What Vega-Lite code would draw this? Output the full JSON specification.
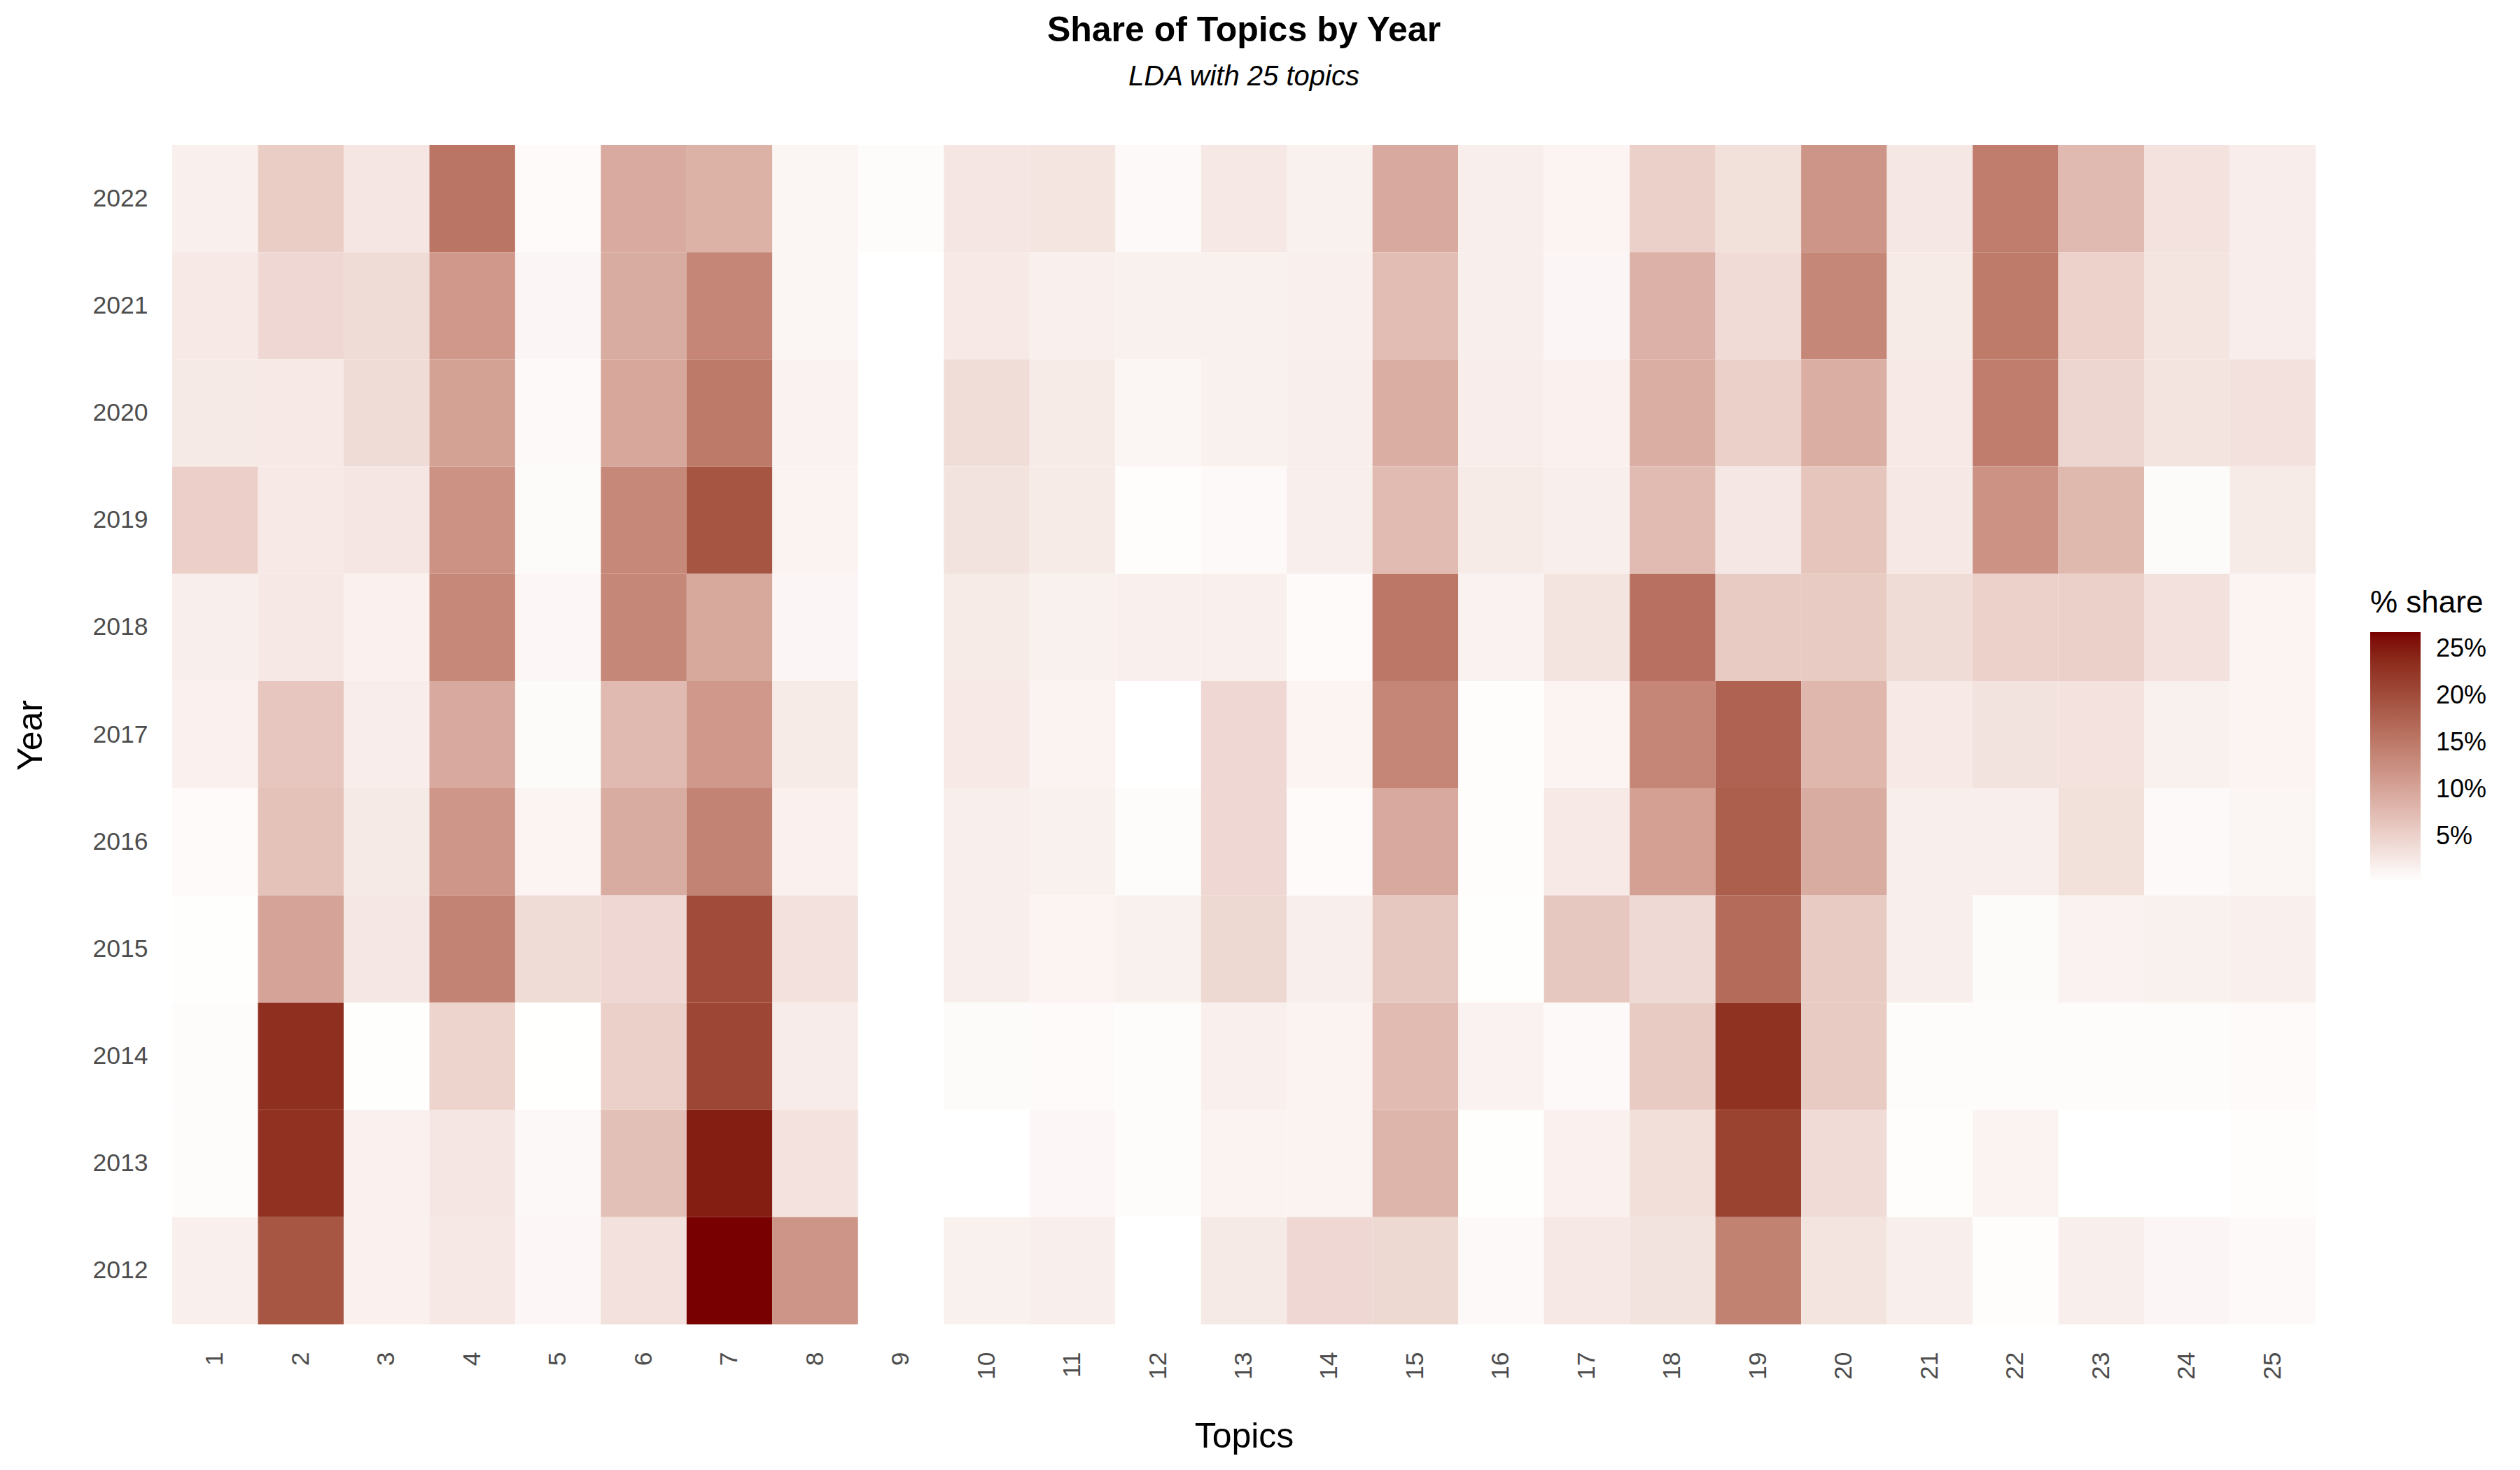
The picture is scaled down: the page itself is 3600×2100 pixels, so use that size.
{
  "$schema": "https://vega.github.io/schema/vega-lite/v6.json",
  "autosize": "none",
  "width": 3062,
  "height": 1685,
  "padding": {"left": 246, "top": 207, "right": 292, "bottom": 208},
  "background": "white",
  "title": {
    "text": "Share of Topics by Year",
    "subtitle": "LDA with 25 topics",
    "anchor": "middle",
    "frame": "group",
    "font": "Liberation Sans",
    "fontSize": 50,
    "fontWeight": "bold",
    "color": "black",
    "subtitleFont": "Liberation Sans",
    "subtitleFontSize": 40,
    "subtitleFontStyle": "italic",
    "subtitleColor": "black",
    "subtitlePadding": 21,
    "offset": 77
  },
  "config": {
    "view": {"stroke": null},
    "font": "Liberation Sans"
  },
  "data": {
    "values": [
      {"topic":1,"year":2022,"share":1.8},{"topic":2,"year":2022,"share":5.5},{"topic":3,"year":2022,"share":2.8},{"topic":4,"year":2022,"share":15.5},{"topic":5,"year":2022,"share":0.7},{"topic":6,"year":2022,"share":9.3},{"topic":7,"year":2022,"share":8.7},{"topic":8,"year":2022,"share":1.2},{"topic":9,"year":2022,"share":0.5},{"topic":10,"year":2022,"share":2.8},{"topic":11,"year":2022,"share":2.9},{"topic":12,"year":2022,"share":0.8},{"topic":13,"year":2022,"share":2.6},{"topic":14,"year":2022,"share":1.7},{"topic":15,"year":2022,"share":9.5},{"topic":16,"year":2022,"share":1.9},{"topic":17,"year":2022,"share":1.3},{"topic":18,"year":2022,"share":5.2},{"topic":19,"year":2022,"share":3.5},{"topic":20,"year":2022,"share":11.8},{"topic":21,"year":2022,"share":2.7},{"topic":22,"year":2022,"share":14.5},{"topic":23,"year":2022,"share":7.7},{"topic":24,"year":2022,"share":3.3},{"topic":25,"year":2022,"share":2.1},
      {"topic":1,"year":2021,"share":2.5},{"topic":2,"year":2021,"share":4.3},{"topic":3,"year":2021,"share":3.9},{"topic":4,"year":2021,"share":11.5},{"topic":5,"year":2021,"share":1.1},{"topic":6,"year":2021,"share":9.2},{"topic":7,"year":2021,"share":13.5},{"topic":8,"year":2021,"share":1.2},{"topic":9,"year":2021,"share":0.05},{"topic":10,"year":2021,"share":2.5},{"topic":11,"year":2021,"share":1.8},{"topic":12,"year":2021,"share":1.7},{"topic":13,"year":2021,"share":1.7},{"topic":14,"year":2021,"share":1.8},{"topic":15,"year":2021,"share":7.3},{"topic":16,"year":2021,"share":1.9},{"topic":17,"year":2021,"share":1.1},{"topic":18,"year":2021,"share":8.6},{"topic":19,"year":2021,"share":4.0},{"topic":20,"year":2021,"share":13.4},{"topic":21,"year":2021,"share":2.3},{"topic":22,"year":2021,"share":14.8},{"topic":23,"year":2021,"share":5.0},{"topic":24,"year":2021,"share":2.9},{"topic":25,"year":2021,"share":2.1},
      {"topic":1,"year":2020,"share":2.4},{"topic":2,"year":2020,"share":2.5},{"topic":3,"year":2020,"share":3.9},{"topic":4,"year":2020,"share":10.4},{"topic":5,"year":2020,"share":0.8},{"topic":6,"year":2020,"share":9.8},{"topic":7,"year":2020,"share":14.9},{"topic":8,"year":2020,"share":1.5},{"topic":9,"year":2020,"share":0.05},{"topic":10,"year":2020,"share":3.8},{"topic":11,"year":2020,"share":2.3},{"topic":12,"year":2020,"share":1.2},{"topic":13,"year":2020,"share":1.7},{"topic":14,"year":2020,"share":1.9},{"topic":15,"year":2020,"share":9.0},{"topic":16,"year":2020,"share":2.1},{"topic":17,"year":2020,"share":1.6},{"topic":18,"year":2020,"share":9.0},{"topic":19,"year":2020,"share":5.2},{"topic":20,"year":2020,"share":9.0},{"topic":21,"year":2020,"share":2.5},{"topic":22,"year":2020,"share":14.5},{"topic":23,"year":2020,"share":4.6},{"topic":24,"year":2020,"share":3.1},{"topic":25,"year":2020,"share":3.4},
      {"topic":1,"year":2019,"share":5.3},{"topic":2,"year":2019,"share":2.5},{"topic":3,"year":2019,"share":2.8},{"topic":4,"year":2019,"share":12.0},{"topic":5,"year":2019,"share":0.6},{"topic":6,"year":2019,"share":13.2},{"topic":7,"year":2019,"share":19.1},{"topic":8,"year":2019,"share":1.4},{"topic":9,"year":2019,"share":0.05},{"topic":10,"year":2019,"share":3.2},{"topic":11,"year":2019,"share":2.3},{"topic":12,"year":2019,"share":0.4},{"topic":13,"year":2019,"share":0.8},{"topic":14,"year":2019,"share":2.0},{"topic":15,"year":2019,"share":7.6},{"topic":16,"year":2019,"share":2.3},{"topic":17,"year":2019,"share":2.0},{"topic":18,"year":2019,"share":7.6},{"topic":19,"year":2019,"share":2.7},{"topic":20,"year":2019,"share":6.4},{"topic":21,"year":2019,"share":2.6},{"topic":22,"year":2019,"share":12.0},{"topic":23,"year":2019,"share":7.9},{"topic":24,"year":2019,"share":0.6},{"topic":25,"year":2019,"share":2.3},
      {"topic":1,"year":2018,"share":1.9},{"topic":2,"year":2018,"share":2.6},{"topic":3,"year":2018,"share":1.6},{"topic":4,"year":2018,"share":13.3},{"topic":5,"year":2018,"share":1.0},{"topic":6,"year":2018,"share":13.4},{"topic":7,"year":2018,"share":9.7},{"topic":8,"year":2018,"share":1.1},{"topic":9,"year":2018,"share":0.05},{"topic":10,"year":2018,"share":2.3},{"topic":11,"year":2018,"share":1.7},{"topic":12,"year":2018,"share":1.8},{"topic":13,"year":2018,"share":1.8},{"topic":14,"year":2018,"share":0.7},{"topic":15,"year":2018,"share":15.2},{"topic":16,"year":2018,"share":1.5},{"topic":17,"year":2018,"share":3.1},{"topic":18,"year":2018,"share":15.9},{"topic":19,"year":2018,"share":5.8},{"topic":20,"year":2018,"share":5.8},{"topic":21,"year":2018,"share":3.9},{"topic":22,"year":2018,"share":5.1},{"topic":23,"year":2018,"share":5.2},{"topic":24,"year":2018,"share":3.4},{"topic":25,"year":2018,"share":1.3},
      {"topic":1,"year":2017,"share":1.6},{"topic":2,"year":2017,"share":6.3},{"topic":3,"year":2017,"share":2.1},{"topic":4,"year":2017,"share":9.5},{"topic":5,"year":2017,"share":0.6},{"topic":6,"year":2017,"share":7.7},{"topic":7,"year":2017,"share":11.5},{"topic":8,"year":2017,"share":2.3},{"topic":9,"year":2017,"share":0.05},{"topic":10,"year":2017,"share":2.5},{"topic":11,"year":2017,"share":1.4},{"topic":12,"year":2017,"share":0.1},{"topic":13,"year":2017,"share":4.3},{"topic":14,"year":2017,"share":1.3},{"topic":15,"year":2017,"share":13.5},{"topic":16,"year":2017,"share":0.4},{"topic":17,"year":2017,"share":1.3},{"topic":18,"year":2017,"share":13.5},{"topic":19,"year":2017,"share":17.6},{"topic":20,"year":2017,"share":8.0},{"topic":21,"year":2017,"share":2.5},{"topic":22,"year":2017,"share":3.2},{"topic":23,"year":2017,"share":3.3},{"topic":24,"year":2017,"share":1.7},{"topic":25,"year":2017,"share":1.3},
      {"topic":1,"year":2016,"share":0.7},{"topic":2,"year":2016,"share":6.8},{"topic":3,"year":2016,"share":2.4},{"topic":4,"year":2016,"share":11.7},{"topic":5,"year":2016,"share":1.3},{"topic":6,"year":2016,"share":9.2},{"topic":7,"year":2016,"share":13.8},{"topic":8,"year":2016,"share":1.6},{"topic":9,"year":2016,"share":0.05},{"topic":10,"year":2016,"share":1.9},{"topic":11,"year":2016,"share":1.7},{"topic":12,"year":2016,"share":0.5},{"topic":13,"year":2016,"share":4.3},{"topic":14,"year":2016,"share":0.7},{"topic":15,"year":2016,"share":9.4},{"topic":16,"year":2016,"share":0.4},{"topic":17,"year":2016,"share":2.5},{"topic":18,"year":2016,"share":10.6},{"topic":19,"year":2016,"share":18.0},{"topic":20,"year":2016,"share":9.2},{"topic":21,"year":2016,"share":1.9},{"topic":22,"year":2016,"share":2.0},{"topic":23,"year":2016,"share":3.5},{"topic":24,"year":2016,"share":0.8},{"topic":25,"year":2016,"share":1.2},
      {"topic":1,"year":2015,"share":0.3},{"topic":2,"year":2015,"share":10.2},{"topic":3,"year":2015,"share":2.7},{"topic":4,"year":2015,"share":13.8},{"topic":5,"year":2015,"share":3.9},{"topic":6,"year":2015,"share":4.3},{"topic":7,"year":2015,"share":20.2},{"topic":8,"year":2015,"share":3.4},{"topic":9,"year":2015,"share":0.05},{"topic":10,"year":2015,"share":2.0},{"topic":11,"year":2015,"share":1.3},{"topic":12,"year":2015,"share":1.7},{"topic":13,"year":2015,"share":4.4},{"topic":14,"year":2015,"share":1.9},{"topic":15,"year":2015,"share":6.1},{"topic":16,"year":2015,"share":0.3},{"topic":17,"year":2015,"share":6.1},{"topic":18,"year":2015,"share":4.2},{"topic":19,"year":2015,"share":16.6},{"topic":20,"year":2015,"share":5.8},{"topic":21,"year":2015,"share":1.9},{"topic":22,"year":2015,"share":0.6},{"topic":23,"year":2015,"share":1.5},{"topic":24,"year":2015,"share":1.7},{"topic":25,"year":2015,"share":1.8},
      {"topic":1,"year":2014,"share":0.5},{"topic":2,"year":2014,"share":23.3},{"topic":3,"year":2014,"share":0.3},{"topic":4,"year":2014,"share":4.8},{"topic":5,"year":2014,"share":0.2},{"topic":6,"year":2014,"share":5.2},{"topic":7,"year":2014,"share":20.8},{"topic":8,"year":2014,"share":2.2},{"topic":9,"year":2014,"share":0.05},{"topic":10,"year":2014,"share":0.6},{"topic":11,"year":2014,"share":0.7},{"topic":12,"year":2014,"share":0.5},{"topic":13,"year":2014,"share":1.8},{"topic":14,"year":2014,"share":1.4},{"topic":15,"year":2014,"share":7.6},{"topic":16,"year":2014,"share":1.5},{"topic":17,"year":2014,"share":0.8},{"topic":18,"year":2014,"share":5.8},{"topic":19,"year":2014,"share":23.0},{"topic":20,"year":2014,"share":5.8},{"topic":21,"year":2014,"share":0.5},{"topic":22,"year":2014,"share":0.5},{"topic":23,"year":2014,"share":0.5},{"topic":24,"year":2014,"share":0.5},{"topic":25,"year":2014,"share":0.7},
      {"topic":1,"year":2013,"share":0.5},{"topic":2,"year":2013,"share":23.1},{"topic":3,"year":2013,"share":1.6},{"topic":4,"year":2013,"share":2.8},{"topic":5,"year":2013,"share":0.9},{"topic":6,"year":2013,"share":7.0},{"topic":7,"year":2013,"share":25.0},{"topic":8,"year":2013,"share":3.3},{"topic":9,"year":2013,"share":0.05},{"topic":10,"year":2013,"share":0.1},{"topic":11,"year":2013,"share":1.0},{"topic":12,"year":2013,"share":0.5},{"topic":13,"year":2013,"share":1.4},{"topic":14,"year":2013,"share":1.4},{"topic":15,"year":2013,"share":8.2},{"topic":16,"year":2013,"share":0.3},{"topic":17,"year":2013,"share":1.6},{"topic":18,"year":2013,"share":3.6},{"topic":19,"year":2013,"share":21.2},{"topic":20,"year":2013,"share":4.0},{"topic":21,"year":2013,"share":0.4},{"topic":22,"year":2013,"share":1.4},{"topic":23,"year":2013,"share":0.15},{"topic":24,"year":2013,"share":0.15},{"topic":25,"year":2013,"share":0.4},
      {"topic":1,"year":2012,"share":1.8},{"topic":2,"year":2012,"share":19.0},{"topic":3,"year":2012,"share":1.6},{"topic":4,"year":2012,"share":2.6},{"topic":5,"year":2012,"share":1.0},{"topic":6,"year":2012,"share":3.4},{"topic":7,"year":2012,"share":26.8},{"topic":8,"year":2012,"share":11.8},{"topic":9,"year":2012,"share":0.05},{"topic":10,"year":2012,"share":1.7},{"topic":11,"year":2012,"share":2.0},{"topic":12,"year":2012,"share":0.1},{"topic":13,"year":2012,"share":2.4},{"topic":14,"year":2012,"share":4.3},{"topic":15,"year":2012,"share":4.4},{"topic":16,"year":2012,"share":0.8},{"topic":17,"year":2012,"share":2.6},{"topic":18,"year":2012,"share":3.2},{"topic":19,"year":2012,"share":14.0},{"topic":20,"year":2012,"share":3.1},{"topic":21,"year":2012,"share":1.9},{"topic":22,"year":2012,"share":0.4},{"topic":23,"year":2012,"share":2.0},{"topic":24,"year":2012,"share":1.1},{"topic":25,"year":2012,"share":0.8}
    ]
  },
  "mark": {"type": "rect", "strokeWidth": 0},
  "encoding": {
    "x": {
      "field": "topic",
      "type": "ordinal",
      "scale": {"paddingInner": 0, "paddingOuter": 0},
      "axis": {
        "title": "Topics",
        "titleFont": "Liberation Sans",
        "titleFontSize": 50,
        "titleFontWeight": "normal",
        "titleColor": "black",
        "titleBaseline": "alphabetic",
        "titleY": 175,
        "labelFont": "Liberation Sans",
        "labelFontSize": 35.5,
        "labelColor": "#4D4D4D",
        "labelAngle": 270,
        "labelAlign": "right",
        "labelBaseline": "middle",
        "labelPadding": 39,
        "ticks": false,
        "tickSize": 0,
        "domain": false,
        "grid": false
      }
    },
    "y": {
      "field": "year",
      "type": "ordinal",
      "sort": "descending",
      "scale": {"paddingInner": 0, "paddingOuter": 0},
      "axis": {
        "title": "Year",
        "titleFont": "Liberation Sans",
        "titleFontSize": 50,
        "titleFontWeight": "normal",
        "titleColor": "black",
        "titleAngle": -90,
        "titleAlign": "center",
        "titleBaseline": "alphabetic",
        "titleX": -187,
        "titleY": 843,
        "labelFont": "Liberation Sans",
        "labelFontSize": 35.5,
        "labelColor": "#4D4D4D",
        "labelPadding": 35,
        "ticks": false,
        "tickSize": 0,
        "domain": false,
        "grid": false
      }
    },
    "color": {
      "field": "share",
      "type": "quantitative",
      "scale": {
        "domain": [0.15, 26.8],
        "range": ["#FFFFFF", "#790000"],
        "interpolate": "lab",
        "clamp": true,
        "zero": false,
        "nice": false
      },
      "legend": {
        "title": "% share",
        "orient": "none",
        "legendX": 3140,
        "legendY": 633,
        "padding": 0,
        "direction": "vertical",
        "gradientLength": 357,
        "gradientThickness": 72,
        "gradientStrokeWidth": 0,
        "titleFont": "Liberation Sans",
        "titleFontSize": 44,
        "titleFontWeight": "normal",
        "titleColor": "black",
        "titlePadding": 19,
        "titleAnchor": "start",
        "labelFont": "Liberation Sans",
        "labelFontSize": 36,
        "labelColor": "black",
        "labelOffset": 22,
        "values": [5, 10, 15, 20, 25],
        "labelExpr": "datum.value + '%'"
      }
    }
  }
}
